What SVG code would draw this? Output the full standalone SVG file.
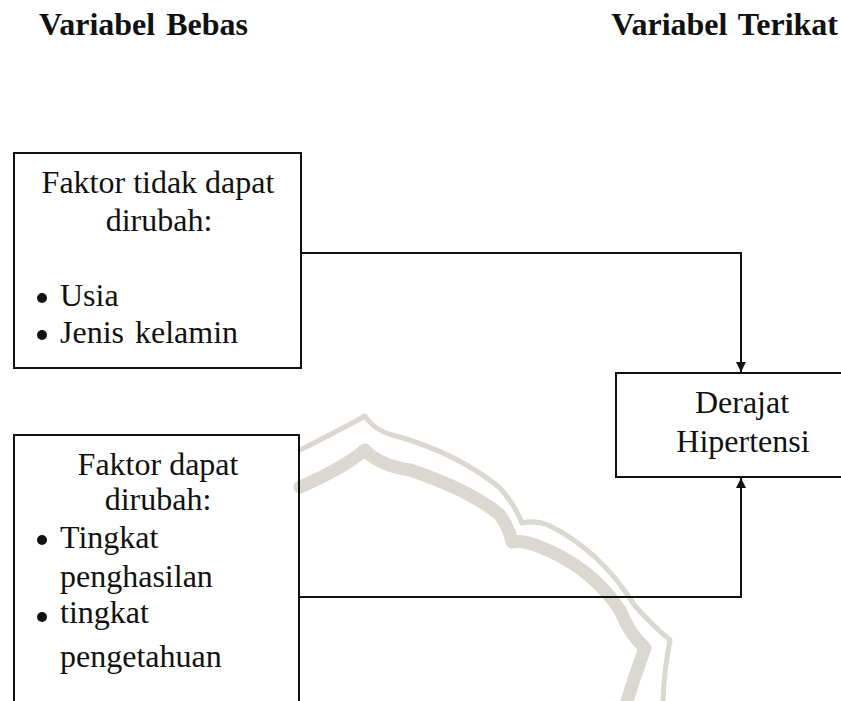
<svg xmlns="http://www.w3.org/2000/svg" width="841" height="701" viewBox="0 0 841 701">
<style>
  .t { font-family: "Liberation Serif", "Times New Roman", serif; font-size: 32px; fill: #111; }
  .h { font-family: "Liberation Serif", "Times New Roman", serif; font-size: 32px; font-weight: bold; fill: #111; word-spacing: 3px; }
  .box { fill: none; stroke: #111; stroke-width: 2; }
  .conn { fill: none; stroke: #111; stroke-width: 2; }
  .wm { fill: none; stroke: #dad8d1; stroke-linecap: round; stroke-linejoin: round; }
  .dot { fill: #111; }
</style>
<defs>
  <marker id="arr" viewBox="0 0 10 10" refX="10" refY="5" markerWidth="5" markerHeight="5.5" orient="auto" markerUnits="strokeWidth">
    <path d="M0,0 L10,5 L0,10 Z" fill="#111"/>
  </marker>
</defs>
<rect width="841" height="701" fill="#fff"/>
<g id="watermark">
  <path class="wm" stroke-width="5" d="M300,450 Q340,430 365,416 Q375,432 400,437 Q460,455 500,488 Q515,505 522,523 Q535,520 548,525 Q600,550 635,606 Q655,628 670,640 Q664,670 663,701"/>
  <path class="wm" stroke-width="13" d="M300,487 Q340,470 365,450 Q378,465 410,470 Q470,490 500,515 Q510,530 512,542 Q522,540 535,545 Q590,565 620,610 Q630,635 645,648 Q635,675 627,701"/>
</g>
<g id="title-bebas"><text class="h" x="39" y="35">Variabel Bebas</text></g>
<g id="title-terikat"><text class="h" x="838" y="35" text-anchor="end">Variabel Terikat</text></g>
<g id="connectors">
  <path class="conn" d="M301,253 H741 V372" marker-end="url(#arr)"/>
  <path class="conn" d="M299,597 H741 V478" marker-end="url(#arr)"/>
</g>
<g id="node-tidak-dapat">
  <rect class="box" x="14" y="153" width="287" height="215"/>
  <text class="t" x="158" y="193" text-anchor="middle">Faktor tidak dapat</text>
  <text class="t" x="159" y="231" text-anchor="middle">dirubah:</text>
  <circle class="dot" cx="42" cy="298" r="5"/>
  <text class="t" x="60" y="306">Usia</text>
  <circle class="dot" cx="42" cy="335" r="5"/>
  <text class="t" x="60" y="343" word-spacing="3">Jenis kelamin</text>
</g>
<g id="node-dapat">
  <rect class="box" x="14" y="435" width="285" height="280"/>
  <text class="t" x="158" y="475" text-anchor="middle">Faktor dapat</text>
  <text class="t" x="158" y="510" text-anchor="middle">dirubah:</text>
  <circle class="dot" cx="42" cy="540" r="5"/>
  <text class="t" x="60" y="548">Tingkat</text>
  <text class="t" x="60" y="587">penghasilan</text>
  <circle class="dot" cx="42" cy="617" r="5"/>
  <text class="t" x="60" y="623">tingkat</text>
  <text class="t" x="60" y="667">pengetahuan</text>
</g>
<g id="node-derajat">
  <rect class="box" x="616" y="373" width="235" height="104"/>
  <text class="t" x="742" y="413" text-anchor="middle">Derajat</text>
  <text class="t" x="743" y="452" text-anchor="middle">Hipertensi</text>
</g>
</svg>
